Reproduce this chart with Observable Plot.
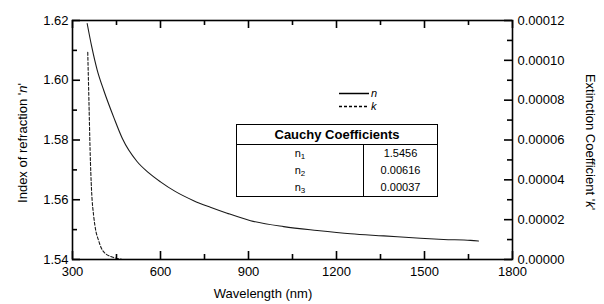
<!DOCTYPE html>
<html><head><meta charset="utf-8">
<script src="https://cdn.jsdelivr.net/npm/d3@7"></script>
<script src="https://cdn.jsdelivr.net/npm/@observablehq/plot@0.6"></script>
<style>
body{margin:0;background:#fff;}
#wrap{position:relative;width:604px;height:304px;font-family:"Liberation Sans",Arial,sans-serif;color:#000;overflow:hidden;}
#wrap svg{display:block;}
.ttl{position:absolute;white-space:nowrap;font-size:13px;transform-origin:center;}
#tbl{position:absolute;left:236px;top:124px;width:202px;border-collapse:collapse;border:1.5px solid #000;font-family:"Liberation Sans",Arial,sans-serif;background:#fff;}
#tbl th{height:19px;padding:0;font-size:13px;font-weight:bold;border-bottom:1.5px solid #000;text-align:center;}
#tbl td{height:17px;padding:0;font-size:11px;text-align:center;line-height:17px;}
#tbl td.c1{width:126px;border-right:1.5px solid #000;}
#tbl sub{font-size:8px;vertical-align:-2px;line-height:0;}
#legend{position:absolute;left:338px;top:86px;font-size:11px;font-style:italic;}
</style></head><body><div id="wrap"></div>
<script>
// n(λ)
const wavelengthN = [350,365,384,407,441,470,520,560,600,650,713,770,827,907,1020,1134,1248,1361,1486,1565,1657,1684];
const nValues = [1.6190,1.6115,1.6035,1.5965,1.5875,1.5805,1.5728,1.5690,1.5660,1.5628,1.5597,1.5575,1.5555,1.5530,1.5510,1.5497,1.5486,1.5479,1.5471,1.5467,1.5464,1.5462];
// k(λ)
const wavelengthK = [352,356,360,365,372,378,389,399,412,430,453,470];
const kValues = [0.000104,0.0000798,0.0000547,0.0000346,0.0000221,0.0000156,0.0000095,0.0000055,0.0000030,0.0000015,0.0000005,0];

const xTicks = [300,600,900,1200,1500,1800];
const xMinor = [450,750,1050,1350,1650];
const nTicks = [1.54,1.56,1.58,1.60,1.62];
const nMinor = [1.55,1.57,1.59,1.61];
const kTicks = [0,0.00002,0.00004,0.00006,0.00008,0.00010,0.00012];
const kMinor = [0.00001,0.00003,0.00005,0.00007,0.00009,0.00011];
const seriesNames = ["n","k"];
const coefNames = ["1","2","3"];
const coefValues = ["1.5456","0.00616","0.00037"];

const nDomain = [1.54,1.62];
const kDomain = [0,0.00012];
const kToN = k => nDomain[0] + (k - kDomain[0]) / (kDomain[1]-kDomain[0]) * (nDomain[1]-nDomain[0]);
const nToK = n => kDomain[0] + (n - nDomain[0]) / (nDomain[1]-nDomain[0]) * (kDomain[1]-kDomain[0]);

const nData = wavelengthN.map((w,i)=>({w, v:nValues[i]}));
const kData = wavelengthK.map((w,i)=>({w, v:kToN(kValues[i])}));

const W = 604, H = 304, mL = 72, mR = 92, mT = 20, mB = 45;
const plotW = W - mL - mR, plotH = H - mT - mB;
const MAJ = 8, MIN = 5;
const tickStyle = {stroke:"#000", strokeWidth:1.6};

const plot = Plot.plot({
  width:W, height:H,
  marginLeft:mL, marginRight:mR, marginTop:mT, marginBottom:mB,
  style:{fontFamily:"Liberation Sans, Arial, sans-serif", fontSize:"13px", color:"#000", background:"#fff"},
  x:{domain:[300,1800]},
  y:{domain:nDomain},
  marks:[
    Plot.line(nData,{x:"w",y:"v",stroke:"#1a1a1a",strokeWidth:1.1,curve:"monotone-x"}),
    Plot.line(kData,{x:"w",y:"v",stroke:"#1a1a1a",strokeWidth:1.1,strokeDasharray:"3,2",curve:"monotone-x"}),
    // inward ticks
    Plot.tickX(xTicks,{x:d=>d, insetTop:plotH-MAJ, ...tickStyle}),
    Plot.tickX(xMinor,{x:d=>d, insetTop:plotH-MIN, ...tickStyle}),
    Plot.tickX(xTicks,{x:d=>d, insetBottom:plotH-MAJ, ...tickStyle}),
    Plot.tickX(xMinor,{x:d=>d, insetBottom:plotH-MIN, ...tickStyle}),
    Plot.tickY(nTicks,{y:d=>d, insetRight:plotW-MAJ, ...tickStyle}),
    Plot.tickY(nMinor,{y:d=>d, insetRight:plotW-MIN, ...tickStyle}),
    Plot.tickY(kTicks.map(kToN),{y:d=>d, insetLeft:plotW-MAJ, ...tickStyle}),
    Plot.tickY(kMinor.map(kToN),{y:d=>d, insetLeft:plotW-MIN, ...tickStyle}),
    // tick labels
    Plot.axisX(xTicks,{anchor:"bottom",tickSize:0,tickPadding:7,fontSize:13,label:null,tickFormat:d=>String(d)}),
    Plot.axisY(nTicks,{anchor:"left",tickSize:0,tickPadding:4,fontSize:13,label:null,tickFormat:d=>d.toFixed(2)}),
    Plot.axisY(kTicks.map(kToN),{anchor:"right",tickSize:0,tickPadding:5,fontSize:13,label:null,tickFormat:d=>nToK(d).toFixed(5)}),
    Plot.frame({stroke:"#000",strokeWidth:1.6})
  ]
});
const wrap = document.getElementById("wrap");
wrap.appendChild(plot);

function addTitle(html, cx, cy, rot){
  const d = document.createElement("div");
  d.className = "ttl";
  d.innerHTML = html;
  d.style.left = cx + "px"; d.style.top = cy + "px";
  d.style.transform = `translate(-50%,-50%) rotate(${rot}deg)`;
  wrap.appendChild(d);
}
addTitle("Index of refraction '<i>n</i>'", 22, 143, -90);
addTitle("Extinction Coefficient '<i>k</i>'", 590, 142, 90);
addTitle("Wavelength (nm)", 263, 293, 0);

// legend
const lg = document.createElement("div");
lg.id = "legend";
lg.innerHTML = seriesNames.map((s,i)=>`<div style="height:13px;line-height:12px;display:flex;align-items:center;"><svg width="32" height="12"><line x1="1" x2="31" y1="6.5" y2="6.5" stroke="#000" stroke-width="1.5" ${i===1?'stroke-dasharray="3,2"':''}/></svg><span style="margin-left:1px">${s}</span></div>`).join("");
wrap.appendChild(lg);

// table
const t = document.createElement("table");
t.id = "tbl";
t.innerHTML = `<tr><th colspan="2">Cauchy Coefficients</th></tr>` +
  coefNames.map((c,i)=>`<tr><td class="c1">n<sub>${c}</sub></td><td>${coefValues[i]}</td></tr>`).join("");
wrap.appendChild(t);
</script>
</body></html>
